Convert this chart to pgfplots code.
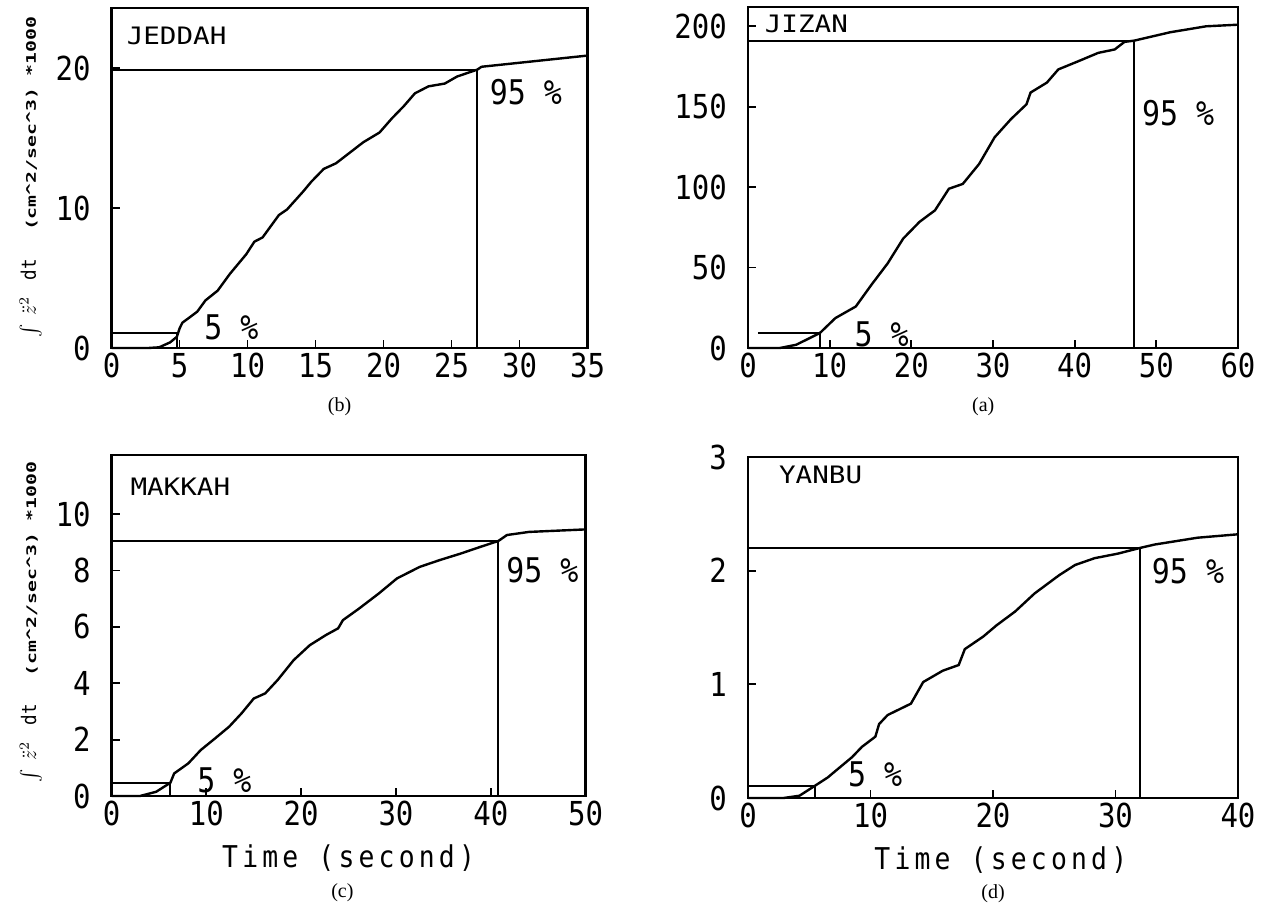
\documentclass[border=0pt]{standalone}
\usepackage{fontspec}
\setmainfont{Liberation Serif}
\usepackage{pgfplots}
\pgfplotsset{compat=1.18}
\newfontfamily\plotfont[FakeStretch=0.88]{DejaVu Sans Mono}
\newfontfamily\namefont[FakeStretch=1.15]{DejaVu Sans Mono}
\newfontfamily\timefont[FakeStretch=0.88, LetterSpace=14]{DejaVu Sans Mono}
\newfontfamily\labfont[FakeStretch=1.5]{DejaVu Sans Mono}

\pgfplotsset{
  husid/.style={
    scale only axis, anchor=south west, clip=false,
    xmin=0, ymin=0,
    axis line style={line width=1.4pt},
    tick align=inside, tick pos=left, major tick length=4pt,
    every tick/.style={black, line width=0.9pt},
    ticklabel style={font=\plotfont\fontsize{16.5}{16.5}\selectfont},
    xticklabel style={yshift=1pt},
    yticklabel style={xshift=-7pt},
    /pgf/number format/assume math mode=true,
    /pgf/number format/1000 sep={},
    xlabel style={font=\timefont\fontsize{15}{15}\selectfont, anchor=center},
    ylabel style={anchor=center},
  },
  curve/.style={black, line width=1.2pt, no markers},
  level/.style={black, line width=1pt, no markers},
}
\tikzset{
  station/.style={anchor=west, font=\namefont\fontsize{12}{12}\selectfont},
  pct/.style={anchor=west, font=\plotfont\fontsize{17}{17}\selectfont},
  subcap/.style={font=\fontsize{10}{10}\selectfont},
}
\newcommand{\husidlabel}{{\fontsize{10}{10}\selectfont$\int\;\ddot{z}^{2}$\hspace{8pt}{\plotfont\fontsize{10}{10}\selectfont dt}\hspace{14pt}{\labfont\bfseries\fontsize{6.6}{6.6}\selectfont (cm\textasciicircum 2/sec\textasciicircum 3) *1000}}}

\begin{document}
\begin{tikzpicture}
\useasboundingbox (0,0) rectangle (632.5pt,-454.5pt);

% (b) Jeddah
\begin{axis}[husid, at={(55.8pt,-174pt)}, width=238pt, height=170pt,
  xmax=35, ymax=24.3, xtick={0,5,...,35}, ytick={0,10,20},
  ylabel={\husidlabel}, ylabel style={at={(axis description cs:-0.17,0.503)}}]
\addplot[curve] coordinates {(0,0)(2.7,0)(3.5,0.05)(4.3,0.4)(4.8,0.8)(5.0,1.4)(5.2,1.8)(6.3,2.6)(6.9,3.4)(7.8,4.1)(8.7,5.3)(9.9,6.7)(10.5,7.6)(11.1,7.9)(12.3,9.5)(12.9,9.9)(14.1,11.2)(14.7,11.9)(15.6,12.8)(16.5,13.2)(17.7,14.1)(18.5,14.7)(19.7,15.4)(20.6,16.4)(21.5,17.3)(22.3,18.2)(23.3,18.7)(24.5,18.9)(25.4,19.4)(26.9,19.9)(27.2,20.1)(35,20.9)};
\addplot[level] coordinates {(0,19.9)(26.9,19.9)(26.9,0)};
\addplot[level] coordinates {(0,1.07)(4.8,1.07)(4.8,0)};
\node[station] at (rel axis cs:0.017,0.918) {JEDDAH};
\node[pct] at (axis cs:27.3,18.3) {95 \%};
\node[pct] at (axis cs:6.3,1.5) {5 \%};
\node[subcap, yshift=-29.5pt] at (rel axis cs:0.479,0) {(b)};
\end{axis}

% (a) Jizan
\begin{axis}[husid, at={(374pt,-174pt)}, width=245pt, height=170.5pt,
  xmax=60, ymax=212, xtick={0,10,...,60}, ytick={0,50,...,200}]
\addplot[curve] coordinates {(0,0)(3.9,0)(5.9,2)(8.8,9.3)(10.7,18.6)(13.2,25.8)(15.1,39.2)(17.1,52.6)(19.0,68)(21.0,78.4)(22.9,85.6)(24.6,99)(26.3,102)(28.3,114.4)(30.2,131)(32.2,142.3)(34.1,151.5)(34.6,158.8)(36.6,165)(38.0,173.2)(40.5,178.4)(42.9,183.5)(44.9,185.6)(46.1,190.3)(47.3,191.1)(51.7,196.3)(56.1,200)(60,201)};
\addplot[level] coordinates {(0,191)(47.3,191)(47.3,0)};
\addplot[level] coordinates {(1.2,9.3)(8.8,9.3)(8.8,0)};
\node[station] at (rel axis cs:0.02,0.95) {JIZAN};
\node[pct] at (axis cs:47.4,146) {95 \%};
\node[pct] at (axis cs:12.2,8.2) {5 \%};
\node[subcap, yshift=-29.5pt] at (rel axis cs:0.48,0) {(a)};
\end{axis}

% (c) Makkah
\begin{axis}[husid, at={(55.8pt,-398pt)}, width=237pt, height=170.5pt,
  xmax=50, ymax=12.1, xtick={0,10,...,50}, ytick={0,2,...,10},
  ylabel={\husidlabel}, ylabel style={at={(axis description cs:-0.17,0.51)}},
  xlabel={Time (second)}, xlabel style={at={(rel axis cs:0.5,0)}, yshift=-31pt}]
\addplot[curve] coordinates {(0,0)(3.0,0)(4.7,0.15)(6.2,0.47)(6.6,0.8)(8.1,1.16)(9.4,1.63)(10.9,2.04)(12.4,2.46)(13.7,2.93)(15.0,3.46)(16.2,3.64)(17.5,4.11)(19.2,4.82)(20.9,5.35)(22.6,5.71)(23.9,5.95)(24.4,6.24)(26.1,6.65)(28.2,7.19)(30.1,7.72)(32.5,8.13)(34.6,8.37)(36.8,8.6)(38.9,8.84)(40.8,9.05)(41.7,9.26)(44.0,9.37)(50,9.46)};
\addplot[level] coordinates {(0,9.05)(40.8,9.05)(40.8,0)};
\addplot[level] coordinates {(0,0.47)(6.2,0.47)(6.2,0)};
\node[station] at (rel axis cs:0.025,0.906) {MAKKAH};
\node[pct] at (axis cs:40.9,8.0) {95 \%};
\node[pct] at (axis cs:8.3,0.57) {5 \%};
\node[subcap, yshift=-48.5pt] at (rel axis cs:0.487,0) {(c)};
\end{axis}

% (d) Yanbu
\begin{axis}[husid, at={(374pt,-399pt)}, width=245pt, height=170.5pt,
  xmax=40, ymax=3, xtick={0,10,...,40}, ytick={0,1,2,3},
  xlabel={Time (second)}, xlabel style={at={(rel axis cs:0.516,0)}, yshift=-31pt}]
\addplot[curve] coordinates {(0,0)(2.9,0)(4.2,0.02)(5.5,0.11)(6.5,0.18)(7.5,0.27)(8.5,0.36)(9.3,0.45)(10.4,0.54)(10.7,0.65)(11.4,0.73)(13.3,0.83)(14.3,1.02)(15.9,1.12)(17.2,1.17)(17.7,1.31)(19.2,1.42)(20.3,1.52)(21.8,1.64)(23.4,1.8)(25.4,1.96)(26.7,2.05)(28.3,2.11)(30.2,2.15)(32.0,2.2)(33.2,2.23)(36.7,2.29)(40,2.32)};
\addplot[level] coordinates {(0,2.2)(32,2.2)(32,0)};
\addplot[level] coordinates {(0,0.106)(5.5,0.106)(5.5,0)};
\node[station] at (rel axis cs:0.049,0.947) {YANBU};
\node[pct] at (axis cs:32.4,2.0) {95 \%};
\node[pct] at (axis cs:7.6,0.21) {5 \%};
\node[subcap, yshift=-48pt] at (rel axis cs:0.5,0) {(d)};
\end{axis}
\end{tikzpicture}
\end{document}
